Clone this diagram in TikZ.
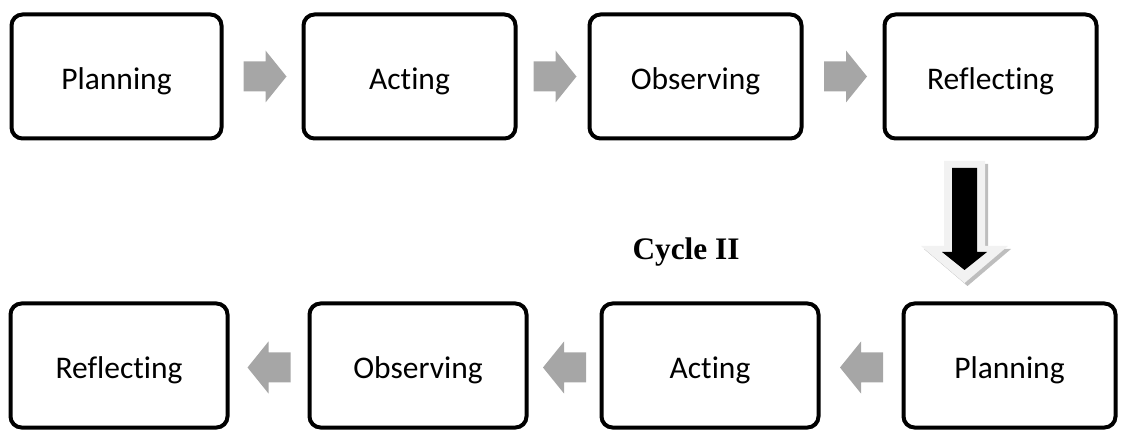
\documentclass[tikz,border=0pt]{standalone}
\usepackage{fontspec}
\setmainfont{Carlito}[Ligatures=NoCommon]
\newfontfamily\cyclefont{Liberation Serif}
\usetikzlibrary{calc}
\definecolor{arrowgray}{RGB}{166,166,166}
\definecolor{lightfill}{RGB}{242,242,242}
\definecolor{shadowgray}{RGB}{190,190,190}
\begin{document}
\begin{tikzpicture}[x=1pt,y=-1pt,
  stagebox/.style={draw=black, line width=4pt, rounded corners=11pt, inner sep=0pt,
    minimum height=124pt, text height=26pt, text depth=0pt,
    font=\fontsize{31.5}{36}\selectfont},
  rblock/.pic={\fill[arrowgray] (-21,-15) -- (1,-15) -- (1,-26) -- (22,0) -- (1,26) -- (1,15) -- (-21,15) -- cycle;},
  lblock/.pic={\fill[arrowgray] (21,-15) -- (-1,-15) -- (-1,-26) -- (-22,0) -- (-1,26) -- (-1,15) -- (21,15) -- cycle;}]
\useasboundingbox (0,0) rectangle (1125,430);

% top row
\node[stagebox, minimum width=210pt] (t1) at (116.5,76.5) {Planning};
\node[stagebox, minimum width=212pt] (t2) at (409.5,76.5) {Acting};
\node[stagebox, minimum width=212pt] (t3) at (695.5,76.5) {Observing};
\node[stagebox, minimum width=212pt] (t4) at (990.5,76.5) {Reflecting};

% bottom row
\node[stagebox, minimum width=212pt] (b1) at (1009.5,365.5) {Planning};
\node[stagebox, minimum width=217pt] (b2) at (710,365.5) {Acting};
\node[stagebox, minimum width=217pt] (b3) at (418,365.5) {Observing};
\node[stagebox, minimum width=217pt] (b4) at (119,365.5) {Reflecting};

% block arrows top
\pic at ($(t1.east)!0.5!(t2.west)+(2,0)$) {rblock};
\pic at ($(t2.east)!0.5!(t3.west)+(2,0)$) {rblock};
\pic at ($(t3.east)!0.5!(t4.west)+(2,0)$) {rblock};

% block arrows bottom
\pic at ($(b1.west)!0.5!(b2.east)+(1,2)$) {lblock};
\pic at ($(b2.west)!0.5!(b3.east)+(1,2)$) {lblock};
\pic at ($(b3.west)!0.5!(b4.east)+(1,2)$) {lblock};

% cycle label
\node[font=\cyclefont\bfseries\fontsize{31.3}{36}\selectfont, anchor=base, inner sep=0pt] (cyc) at (686,260) {Cycle II};

% big down arrow
\coordinate (dtop) at (964.5,161);
\begin{scope}[shift={(dtop)}]
  \fill[shadowgray, shift={(3,3)}] (-20.5,0) -- (20.5,0) -- (20.5,85) -- (43.5,85) -- (0,122) -- (-43.5,85) -- (-20.5,85) -- cycle;
  \fill[lightfill] (-20.5,0) -- (20.5,0) -- (20.5,85) -- (43.5,85) -- (0,122) -- (-43.5,85) -- (-20.5,85) -- cycle;
  \fill[black] (-12.5,7) -- (12.5,7) -- (12.5,91) -- (22.5,91) -- (0,109) -- (-22.5,91) -- (-12.5,91) -- cycle;
\end{scope}
\end{tikzpicture}
\end{document}
